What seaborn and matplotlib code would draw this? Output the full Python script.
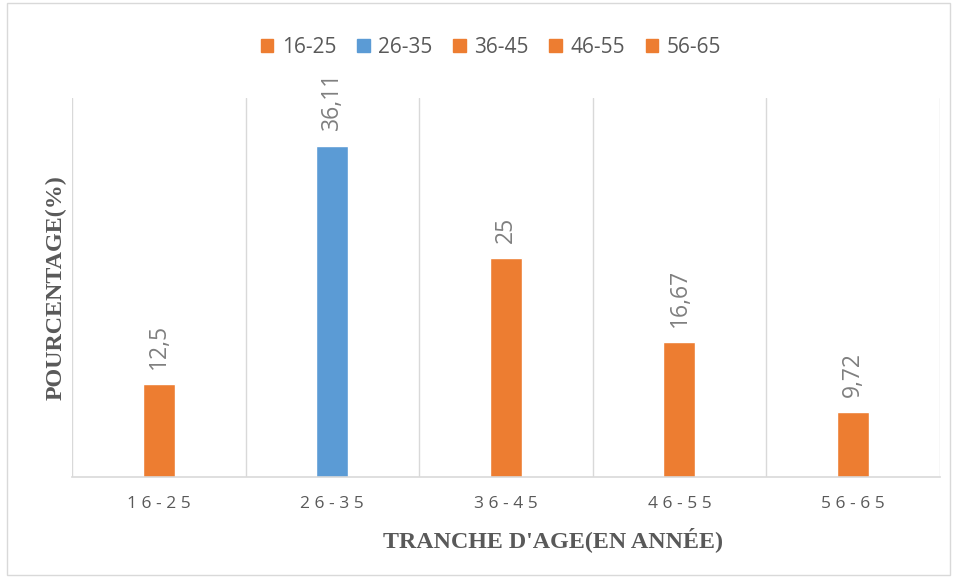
import pandas as pd
import matplotlib
matplotlib.use('Agg')
import matplotlib.pyplot as plt
from matplotlib.patches import Rectangle
import seaborn as sns

tranches = ['16-25', '26-35', '36-45', '46-55', '56-65']
pourcentages = [12.5, 36.11, 25, 16.67, 9.72]
etiquettes = ['12,5', '36,11', '25', '16,67', '9,72']
couleurs = ['#ED7D31', '#5B9BD5', '#ED7D31', '#ED7D31', '#ED7D31']

base = pd.DataFrame({'tranche': tranches, 'pct': pourcentages})

sns.set_style('white')
plt.rcParams['font.family'] = ['Open Sans', 'DejaVu Sans']

fig = plt.figure(figsize=(9.57, 5.81), dpi=100)
ax = fig.add_axes([0.0752, 0.179, 0.9068, 0.652])

sns.barplot(data=base, x='tranche', y='pct', hue='tranche', palette=couleurs,
            width=0.185, saturation=1, ax=ax, legend=False)

ax.set_ylim(3.3, 40.8)
ax.set_xlim(-0.5, 4.5)

# etiquettes de valeurs verticales
for i, (v, t) in enumerate(zip(pourcentages, etiquettes)):
    ax.text(i, v + 1.5, t, rotation=90, ha='center', va='bottom',
            fontsize=16.5, color='#7F7F7F')

# grille verticale entre categories
ax.set_xticks([i + 0.5 for i in range(-1, 5)], minor=True)
ax.grid(True, which='minor', axis='x', color='#D9D9D9', linewidth=1)
ax.tick_params(which='both', length=0)
ax.set_yticks([])
ax.set_xticks(range(5))
ax.set_xticklabels([' '.join(t) for t in tranches], fontsize=12.5, color='#595959')
ax.tick_params(axis='x', pad=14)

for s in ['top', 'right', 'left']:
    ax.spines[s].set_visible(False)
ax.spines['bottom'].set_color('#D9D9D9')
ax.spines['bottom'].set_linewidth(1.2)

ax.set_xlabel("TRANCHE D'AGE(EN ANNÉE)", family='Liberation Serif', fontweight='bold',
              fontsize=17.3, color='#595959')
ax.xaxis.set_label_coords(0.554, -0.133)
ax.set_ylabel('POURCENTAGE(%)', family='Liberation Serif', fontweight='bold',
              fontsize=17.3, color='#595959')
ax.yaxis.set_label_coords(-0.006, 0.5)

handles = [Rectangle((0, 0), 1, 1, color=c) for c in couleurs]
fig.legend(handles, tranches, loc='center', bbox_to_anchor=(0.513, 0.918), ncol=5,
           frameon=False, fontsize=15, handlelength=0.6, handleheight=0.6,
           handletextpad=0.4, columnspacing=1.0, labelcolor='#595959')

fig.patches.append(Rectangle((0.007, 0.01), 0.986, 0.985, transform=fig.transFigure,
                             fill=False, edgecolor='#D9D9D9', linewidth=1))

plt.savefig('out.png', dpi=100)
